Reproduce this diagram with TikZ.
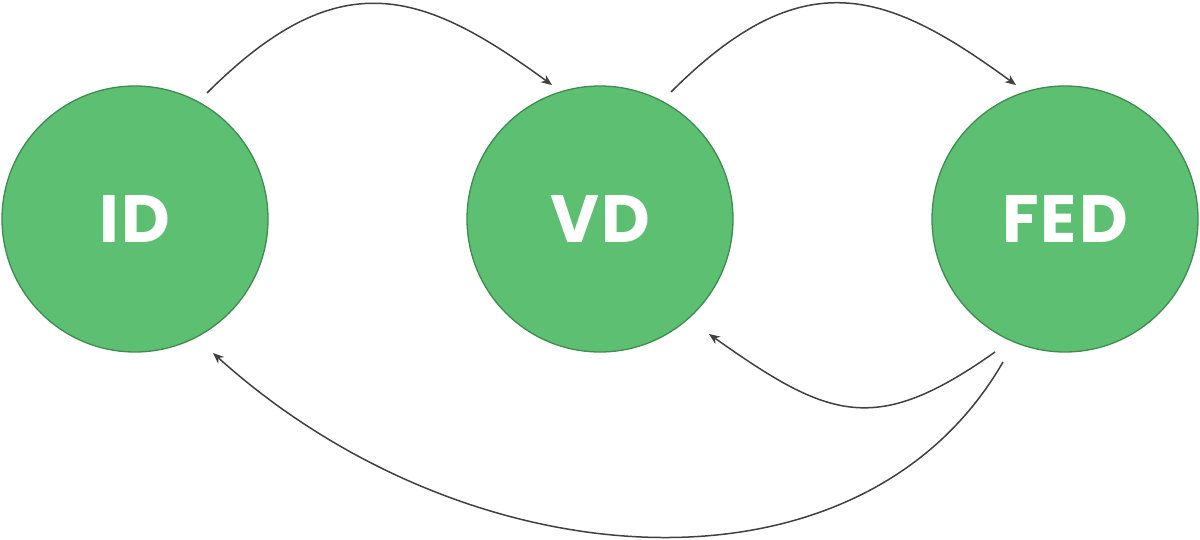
\documentclass[tikz,border=0pt]{standalone}
\usepackage{fontspec}
\setmainfont{Poppins}
\usetikzlibrary{arrows.meta,calc}
\definecolor{nodefill}{HTML}{5CBF72}
\definecolor{nodeedge}{HTML}{3E8C50}
\definecolor{conncol}{HTML}{404040}
\begin{document}
\begin{tikzpicture}[x=1pt,y=-1pt,
  state/.style={circle,draw=nodeedge,line width=1.3pt,fill=nodefill,minimum size=266pt,inner sep=0pt,
    text=white,font=\fontsize{67}{67}\selectfont\bfseries\addfontfeatures{LetterSpace=3}},
  conn/.style={draw=conncol,line width=1.5pt,-{Stealth[length=11pt,width=9pt]}}]
\useasboundingbox (0,0) rectangle (1200,540);
\node[state] (id) at (135,219) {ID};
\node[state] (vd) at (600,219) {VD};
\node[state] (fed) at (1065,219) {FED};
\draw[conn] ($(id)+(72,-126)$) .. controls +(132,-132) and +(-130,-95) .. ($(vd)+(-48,-134)$);
\draw[conn] ($(vd)+(71,-127)$) .. controls +(132,-132) and +(-130,-95) .. ($(fed)+(-49,-134)$);
\draw[conn] ($(fed)+(-70,133)$) .. controls +(-120,85) and +(120,85) .. ($(vd)+(109,115)$);
\draw[conn] ($(fed)+(-62,143)$) .. controls +(-143,248) and +(255,230) .. ($(id)+(78,134)$);
\end{tikzpicture}
\end{document}
